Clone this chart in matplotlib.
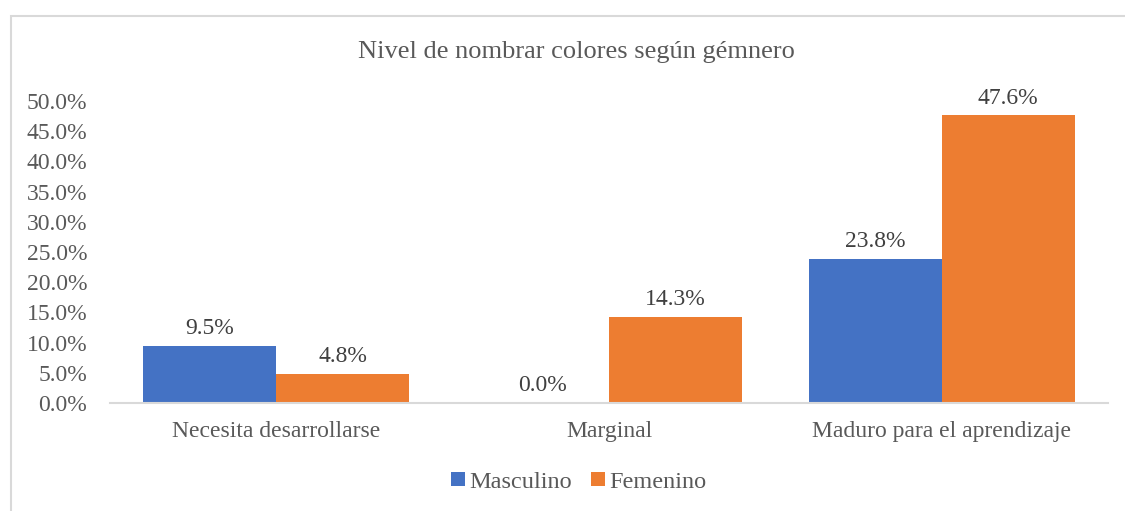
import matplotlib
matplotlib.use("Agg")
import matplotlib.pyplot as plt
import numpy as np
from matplotlib.patches import Rectangle

categories = ["Necesita desarrollarse", "Marginal", "Maduro para el aprendizaje"]
masculino = [9.5, 0.0, 23.8]
femenino = [4.8, 14.3, 47.6]
series_names = ["Masculino", "Femenino"]
yticks = [0, 5, 10, 15, 20, 25, 30, 35, 40, 45, 50]
title = "Nivel de nombrar colores según gémnero"

plt.rcParams['font.family'] = ['Liberation Serif', 'DejaVu Serif']
txt = '#595959'

fig = plt.figure(figsize=(11.25, 5.11), dpi=100)
ax = fig.add_axes([110/1125, 1-403/511, (1108-110)/1125, (403-101)/511])

x = np.arange(len(categories))
w = 0.4
b1 = ax.bar(x - w/2, masculino, w, color='#4472C4', label=series_names[0])
b2 = ax.bar(x + w/2, femenino, w, color='#ED7D31', label=series_names[1])

for bars, vals in ((b1, masculino), (b2, femenino)):
    for r, v in zip(bars, vals):
        ax.annotate(f"{v:.1f}%", (r.get_x() + r.get_width()/2, v),
                    xytext=(0, 5), textcoords='offset points',
                    ha='center', va='bottom', fontsize=17, color='#404040')

ax.set_xlim(-0.5, 2.5)
ax.set_ylim(0, 50)
ax.set_yticks(yticks)
ax.set_yticklabels([f"{t:.1f}%" for t in yticks])
ax.set_xticks(x)
ax.set_xticklabels(categories)
ax.tick_params(axis='both', length=0, labelsize=17, colors=txt)
ax.tick_params(axis='x', pad=13)
ax.tick_params(axis='y', pad=16.5)
for s in ['top', 'right', 'left']:
    ax.spines[s].set_visible(False)
ax.spines['bottom'].set_color('#d9d9d9')
ax.spines['bottom'].set_linewidth(1.5)

fig.text(576/1125, 1-52/511, title, ha='center', va='center', fontsize=19, color=txt)

leg = fig.legend(handles=[b1, b2], labels=series_names, loc='center',
                 bbox_to_anchor=(579/1125, 1-482/511), ncol=2, frameon=False,
                 fontsize=17.5, handlelength=0.55, handleheight=0.55,
                 handletextpad=0.2, columnspacing=0.8)
for t in leg.get_texts():
    t.set_color(txt)

fig.patches.append(Rectangle((11/1125, -0.1), 1.2, 1.1 - 16/511,
                             transform=fig.transFigure, fill=False,
                             edgecolor='#d9d9d9', lw=1.5))

fig.savefig("out.png", dpi=100)
